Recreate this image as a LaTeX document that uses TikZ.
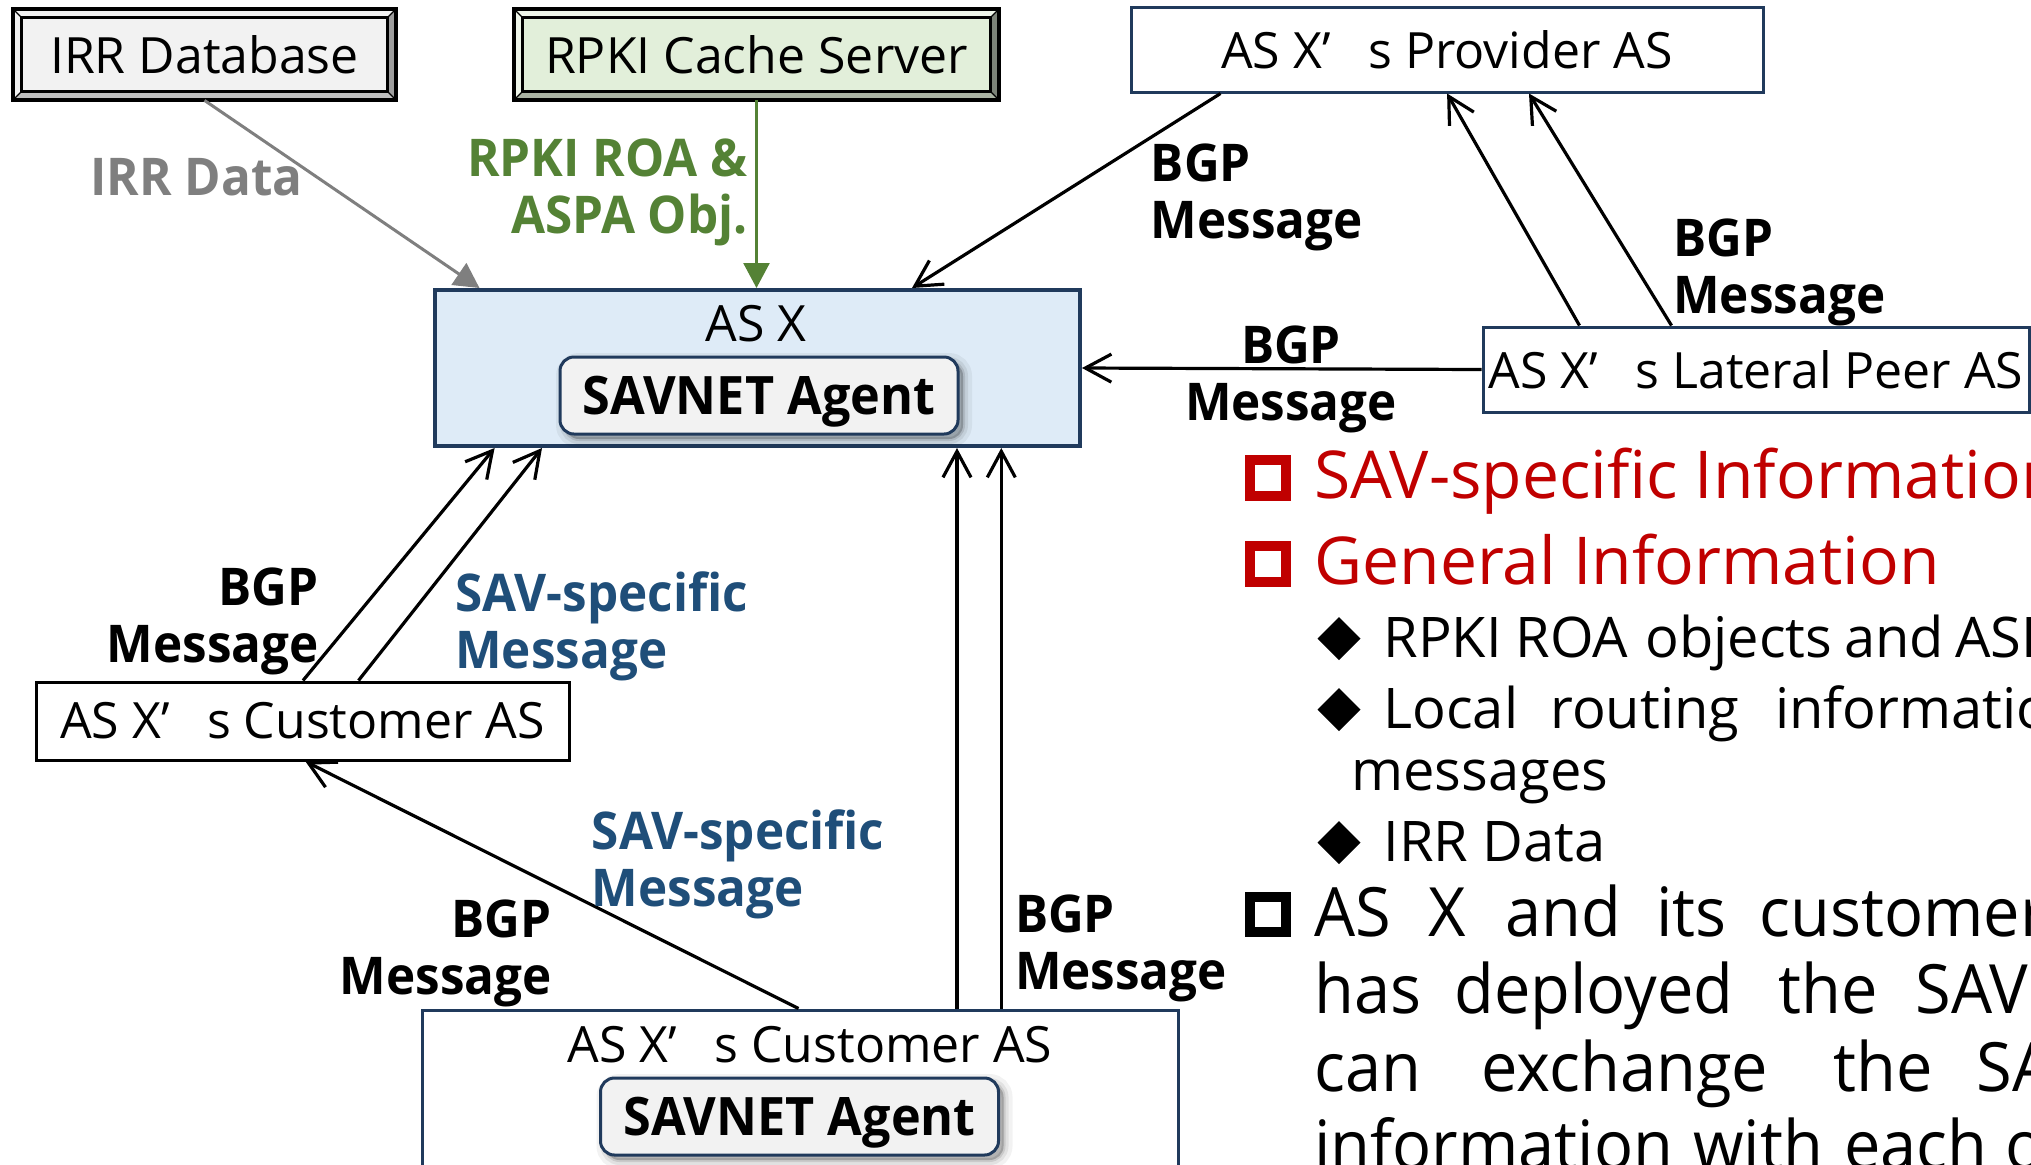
\documentclass[tikz,border=0pt]{standalone}
\usepackage{fontspec}
\setmainfont{Open Sans}[BoldFeatures={FakeStretch=0.95}]
\newfontfamily\parafont{Open Sans}[FakeStretch=0.955]
\usetikzlibrary{arrows.meta,calc,backgrounds}

\definecolor{navy}{HTML}{203A5C}
\definecolor{asxfill}{HTML}{DEEBF7}
\definecolor{agentfill}{HTML}{F2F2F2}
\definecolor{irrgray}{HTML}{7F7F7F}
\definecolor{roagreen}{HTML}{548235}
\definecolor{savblue}{HTML}{1F4E79}
\definecolor{hdred}{HTML}{C00000}
\definecolor{rpkifill}{HTML}{E2EFDA}

% raised frame drawn behind a node: #1 node, #2 light bands, #3 right band,
% #4 bottom band, #5 face colour
\newcommand\raisedframe[5]{%
  \begin{scope}[on background layer]
    \fill[#3] (#1.north east) -- (#1.south east) -- ($(#1.south east)+(-9,-9)$) -- ($(#1.north east)+(-9,9)$) -- cycle;
    \fill[#4] (#1.south west) -- (#1.south east) -- ($(#1.south east)+(-9,-9)$) -- ($(#1.south west)+(9,-9)$) -- cycle;
    \fill[#2] (#1.north west) -- (#1.north east) -- ($(#1.north east)+(-9,9)$) -- ($(#1.north west)+(9,9)$) -- cycle;
    \fill[#2] (#1.north west) -- (#1.south west) -- ($(#1.south west)+(9,-9)$) -- ($(#1.north west)+(9,9)$) -- cycle;
    \draw[line width=0.6pt] (#1.north west) -- ($(#1.north west)+(9,9)$)
                            (#1.north east) -- ($(#1.north east)+(-9,9)$)
                            (#1.south west) -- ($(#1.south west)+(9,-9)$)
                            (#1.south east) -- ($(#1.south east)+(-9,-9)$);
    \draw[fill=#5, line width=1.4pt] ($(#1.north west)+(9,9)$) rectangle ($(#1.south east)+(-9,-9)$);
    \draw[line width=2pt] (#1.north west) rectangle (#1.south east);
  \end{scope}}

\newcommand\diamondmark[2]{\fill (#1,#2-21.5) -- (#1+21.5,#2) -- (#1,#2+21.5) -- (#1-21.5,#2) -- cycle;}

\begin{document}
\begin{tikzpicture}[x=0.5pt,y=-0.5pt,
  boxfont/.style={font=\fontsize{25}{30}\selectfont},
  lbl/.style={inner sep=0pt, font=\fontsize{26}{28.5}\selectfont\bfseries},
  frameonly/.style={inner sep=0pt, boxfont},
  asbox/.style={draw=navy, line width=1.5pt, inner sep=0pt, boxfont},
  agentshadow/.style={
    preaction={draw=black, fill=black, opacity=0.05, line width=9pt, transform canvas={shift={(2.5pt,-2.5pt)}}},
    preaction={draw=black, fill=black, opacity=0.07, line width=5pt, transform canvas={shift={(2.5pt,-2.5pt)}}},
    preaction={draw=black, fill=black, opacity=0.10, line width=2pt, transform canvas={shift={(2.5pt,-2.5pt)}}}},
  agent/.style={agentshadow, draw=navy, line width=1.5pt, fill=agentfill, rounded corners=7pt,
    minimum width=199pt, minimum height=38.5pt, inner sep=0pt, text depth=0pt,
    font=\fontsize{26.5}{30}\selectfont\bfseries},
  msg/.style={draw=black, line width=1.6pt, -{Straight Barb[length=13pt,width=14pt]}},
  irrfeed/.style={draw=irrgray, line width=1.5pt, -{Triangle[length=12.5pt,width=13pt]}},
  roafeed/.style={draw=roagreen, line width=1.3pt, -{Triangle[length=12.5pt,width=13pt]}},
  hdtext/.style={inner sep=0pt, anchor=base west, text=hdred, font=\fontsize{33}{40}\selectfont},
  subtext/.style={inner sep=0pt, anchor=base west, font=\fontsize{28}{34}\selectfont},
  paratext/.style={inner sep=0pt, anchor=base west, font=\parafont\fontsize{34}{40}\selectfont}]

\useasboundingbox (0,0) rectangle (2031,1164);
\clip (0,0) rectangle (2031,1164);

% data sources
\node[frameonly, minimum width=191.5pt, minimum height=45.5pt] (irr) at (204.5,54.5) {IRR Database};
\raisedframe{irr}{white!95!black}{black!38}{black!25}{agentfill}
\node[frameonly, minimum width=242.5pt, minimum height=45.5pt] (rpki) at (756.5,54.5) {RPKI Cache Server};
\raisedframe{rpki}{rpkifill!60!white}{black!45!rpkifill}{black!25!rpkifill}{rpkifill}

% autonomous systems
\node[asbox, minimum width=316pt, minimum height=42.5pt] (prov) at (1447,49.5) {AS X’\hspace{0.75em}s Provider AS};
\node[asbox, line width=2pt, fill=asxfill, minimum width=322.5pt, minimum height=78pt] (asx) at (757.5,368) {};
\node[inner sep=0pt, boxfont] (asxname) at (756,324) {AS X};
\node[agent] (agentx) at (759,395.5) {SAVNET Agent};
\node[asbox, minimum width=273pt, minimum height=42.5pt] (peer) at (1756,369.5) {AS X’\hspace{0.75em}s Lateral Peer AS};
\node[asbox, draw=black, minimum width=266.5pt, minimum height=39pt] (cust) at (302.5,721) {AS X’\hspace{0.75em}s Customer AS};
\node[asbox, minimum width=378pt, minimum height=95pt] (bcust) at (800,1105) {};
\node[inner sep=0pt, boxfont] (bcustname) at (810,1045) {AS X’\hspace{0.75em}s Customer AS};
\node[agent] (agentc) at (799.5,1116.5) {SAVNET Agent};

% connectors
\draw[irrfeed] (irr.south) -- ($(asx.north west)+(46.5,0)$);
\draw[roafeed] (rpki.south) -- (rpki.south |- asx.north);
\draw[msg] ($(prov.south west)+(91,0)$) -- ($(asx.north west)+(479,0)$);
\draw[msg] ($(peer.north west)+(98,0)$) -- ($(prov.south west)+(317.6,0)$);
\draw[msg] ($(peer.north west)+(190,0)$) -- ($(prov.south west)+(399.5,0)$);
\draw[msg] (peer.west) -- (asx.east);
\draw[msg] ($(cust.north west)+(268.5,0)$) -- ($(asx.south west)+(61.6,0)$);
\draw[msg] ($(cust.north west)+(324,0)$) -- ($(asx.south west)+(109,0)$);
\draw[msg] ($(bcust.north west)+(378,0)$) -- ($(cust.south west)+(271,0)$);
\coordinate (up1) at ($(bcust.north west)+(536.5,0)$);
\coordinate (up2) at ($(bcust.north west)+(580.8,0)$);
\draw[msg] (up1) -- (up1 |- asx.south);
\draw[msg] (up2) -- (up2 |- asx.south);

% connector labels
\node[lbl, anchor=north, text=irrgray] (lirr) at (196.5,158) {IRR Data};
\node[lbl, anchor=north east, align=right, text=roagreen] (lroa) at (748,138) {RPKI ROA \&\\ASPA Obj.};
\node[lbl, anchor=north west, align=left] (lprov) at (1150.5,143) {BGP\\Message};
\node[lbl, anchor=north west, align=left] (lpeerup) at (1673,218) {BGP\\Message};
\node[lbl, anchor=north, align=center] (lpeer) at (1291,325) {BGP\\Message};
\node[lbl, anchor=north east, align=right] (lcbgp) at (319,567) {BGP\\Message};
\node[lbl, anchor=north west, align=left, text=savblue] (lcsav) at (455,571) {SAV-specific\\Message};
\node[lbl, anchor=north west, align=left, text=savblue] (lbsav) at (591.5,809) {SAV-specific\\Message};
\node[lbl, anchor=north east, align=right] (lbbgp) at (552,899) {BGP\\Message};
\node[lbl, anchor=north west, align=left] (lbup) at (1014.6,894.6) {BGP\\Message};

% information list
\draw[hdred, line width=5pt] (1250,460) rectangle (1286,496);
\node[hdtext] (hsav) at (1314,498) {SAV-specific Information};
\draw[hdred, line width=5pt] (1250,546) rectangle (1286,582);
\node[hdtext] (hgen) at (1314,584) {General Information};

\diamondmark{1339}{638.5}
\foreach \w/\px [count=\k] in {RPKI/1383, ROA/1515, objects/1645, and/1844, ASPA/1955}
  \node[subtext] (ra\k) at (\px,657) {\w};
\diamondmark{1339}{709.5}
\foreach \w/\px [count=\k] in {Local/1383, routing/1550, information/1775}
  \node[subtext] (rb\k) at (\px,728) {\w};
\node[subtext] (rc) at (1351,790) {messages};
\diamondmark{1339}{842.5}
\node[subtext] (rd) at (1383,861) {IRR Data};

\draw[line width=5pt] (1250,897) rectangle (1286,932);
\foreach \w/\px [count=\k] in {AS/1314, X/1428, and/1505, its/1656, customer/1759}
  \node[paratext] (pa\k) at (\px,936) {\w};
\foreach \w/\px [count=\k] in {has/1314, deployed/1454, the/1778, SAVNET/1915}
  \node[paratext] (pb\k) at (\px,1013) {\w};
\foreach \w/\px [count=\k] in {can/1314, exchange/1481, the/1833, SAV-specific/1976}
  \node[paratext] (pc\k) at (\px,1091.6) {\w};
\foreach \w/\px [count=\k] in {information/1314, with/1693, each/1844, other./2005}
  \node[paratext] (pd\k) at (\px,1169) {\w};

\end{tikzpicture}
\end{document}
